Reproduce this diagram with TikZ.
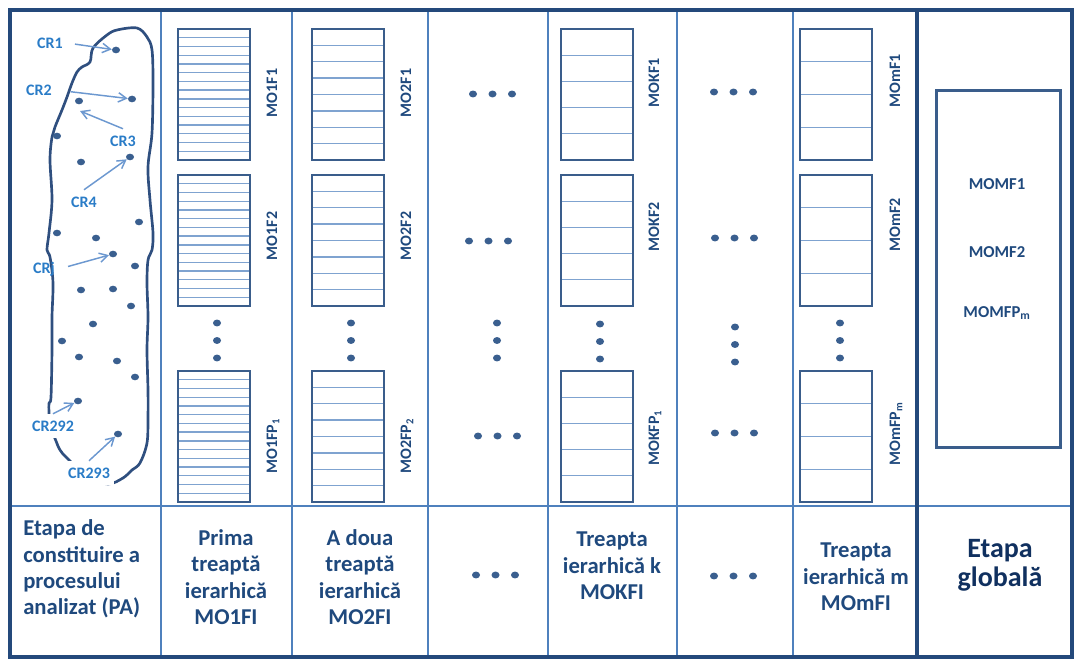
\documentclass[tikz,border=0pt]{standalone}
\usepackage{fontspec}
\setmainfont{Carlito}
\usetikzlibrary{calc,arrows.meta,shapes.geometric}
\definecolor{framec}{HTML}{24497B}
\definecolor{divc}{HTML}{4F81BD}
\definecolor{boxc}{HTML}{3A5D8B}
\definecolor{rowc}{HTML}{7FA3D0}
\definecolor{txtc}{HTML}{1F497D}
\definecolor{navy}{HTML}{10305F}
\definecolor{crc}{HTML}{2A7CC7}
\definecolor{arrc}{HTML}{6C98D0}
\definecolor{blobc}{HTML}{2F4F7F}
\definecolor{dotc}{HTML}{3A5F8F}
\newcommand\stk[4]{%
  \node[sbox] (#1) at (#2,#3) {};
  \pgfmathtruncatemacro\nlines{#4-1}
  \foreach \k in {1,...,\nlines}{
    \draw[rowl] ($(#1.north west)!\k/#4!(#1.south west)$) -- ($(#1.north east)!\k/#4!(#1.south east)$);
  }
}
\begin{document}
\begin{tikzpicture}[x=0.75pt,y=-0.75pt,
  sbox/.style={draw=boxc,line width=2pt,inner sep=0pt,outer sep=0pt,minimum width=54pt,minimum height=98.25pt,anchor=north west},
  rowl/.style={draw=rowc,line width=1pt,shorten <=1pt,shorten >=1pt},
  lab/.style={rotate=90,font=\bfseries\fontsize{12pt}{14pt}\selectfont,text=txtc,inner sep=0pt},
  btxt/.style={font=\bfseries\fontsize{17pt}{19.8pt}\selectfont,text=txtc,align=center,inner sep=0pt},
  gtxt/.style={font=\bfseries\fontsize{12.5pt}{14pt}\selectfont,text=txtc,inner sep=0pt},
  crlab/.style={font=\bfseries\fontsize{12pt}{14pt}\selectfont,text=crc,inner xsep=3pt,inner ysep=5pt},
  arr/.style={draw=arrc,line width=1.1pt,-{Straight Barb[angle=60:7pt]}},
  dot/.style={ellipse,fill=dotc,minimum width=6pt,minimum height=5pt,inner sep=0pt},
  sdot/.style={ellipse,fill=dotc,minimum width=6pt,minimum height=5.2pt,inner sep=0pt},
  divl/.style={draw=divc,line width=1.5pt},
  thickl/.style={draw=framec,line width=3.6pt},
  blob/.style={draw=blobc,line width=2pt,line join=round}
]
\useasboundingbox (0,0) rectangle (1075,659);
% grid lines
\foreach \x in {161,292,428,548,677,793} \draw[divl] (\x,10) -- (\x,657);
\draw[divl] (10,506) -- (1072,506);
\draw[thickl] (917,10) -- (917,657);
\draw[thickl] (10,10) rectangle (1072,657);

% blob
\draw[blob] plot[smooth cycle,tension=0.55] coordinates {
 (107,35) (117,30) (137,28) (147,37) (152,50) (153,83) (152,133) (148,167) (150,200) (153,233)
 (152,250) (148,260) (147,283) (148,317) (147,350) (148,390) (148,417) (147,443) (140,463)
 (132,470) (123,478) (108,484) (88,477) (67,458) (60,450) (56,441) (50,425) (49,412) (49,403)
 (51,397) (52,350) (52,317) (53,283) (50,257) (47,250) (49,233) (52,200) (50,160) (52,137)
 (55,127) (62,110) (67,97) (72,83) (77,72) (82,67) (90,62) (93,48)};

% dots in the blob
\foreach \p [count=\i] in {(116,50),(132,99),(79,101),(57,136),(130,157),(81,162),(139,222),
  (57,233),(96,238),(113,254),(135,266),(81,290),(113,289),(131,306),(93,324),(62,341),
  (79,357),(117,361),(135,377),(78,401),(118,434)}
  \node[dot] (d\i) at \p {};

% CR labels
\node[crlab] (cr1) at (50,43) {CR1};
\node[crlab] (cr2) at (39,90) {CR2};
\node[crlab] (cr3) at (123,141) {CR3};
\node[crlab] (cr4) at (84,202) {CR4};
\node[crlab] (crj) at (44,269) {CRj};
\node[crlab,fill=white] (cr292) at (53,426) {CR292};
\node[crlab,fill=white] (cr293) at (89,473) {CR293};
\coordinate (cr3end) at (80,111);
\draw[arr,shorten <=6pt] (cr1.east) -- (d1);
\draw[arr,shorten <=11pt] (cr2.east) -- (d2);
\draw[arr] (cr3.north) -- (cr3end);
\draw[arr] (cr4.north) -- (d5);
\draw[arr,shorten <=7pt] (crj.east) -- (d10);
\draw[arr] (cr292.north) -- (d20);
\draw[arr] (cr293.north) -- (d21);

% stacks
\stk{a1}{178}{29}{15}  \stk{a2}{178}{175}{15}  \stk{a3}{178}{371}{15}
\stk{b1}{312}{29}{8}   \stk{b2}{312}{175}{8}   \stk{b3}{312}{371}{8}
\stk{k1}{561}{29}{5}   \stk{k2}{561}{175}{5}   \stk{k3}{561}{371}{5}
\stk{m1}{800}{29}{4}   \stk{m2}{800}{175}{4}   \stk{m3}{800}{371}{4}

% stack labels
\node[lab] (la1) at (272,93) {MO1F1};
\node[lab] (la2) at (272,236) {MO1F2};
\node[lab] (la3) at (273,446) {MO1FP\textsubscript{1}};
\node[lab] (lb1) at (406,93) {MO2F1};
\node[lab] (lb2) at (406,236) {MO2F2};
\node[lab] (lb3) at (407,446) {MO2FP\textsubscript{2}};
\node[lab] (lk1) at (654,83) {MOKF1};
\node[lab] (lk2) at (654,227) {MOKF2};
\node[lab] (lk3) at (655,438) {MOKFP\textsubscript{1}};
\node[lab] (lm1) at (895,81) {MOmF1};
\node[lab] (lm2) at (895,225) {MOmF2};
\node[lab] (lm3) at (896,434) {MOmFP\textsubscript{m}};

% vertical ellipses
\foreach \x/\y [count=\c] in {217/323,351/323,497/323,600/324,735/327,840/323}
  \foreach \j in {0,1,2} \node[sdot] (v\c-\j) at (\x,\y+17.5*\j) {};
% horizontal ellipses
\foreach \x/\y [count=\c] in {473/94,469/241,478/436,476/575,714/92,715/238,715/433,714/576}
  \foreach \j in {0,1,2} \node[sdot] (h\c-\j) at (\x+19.5*\j,\y) {};

% global box
\node[draw=boxc,line width=2pt,minimum width=93pt,minimum height=267.75pt,inner sep=0pt,anchor=north west] (gbox) at (935,89) {};
\node[gtxt] (g1) at (997,184) {MOMF1};
\node[gtxt] (g2) at (997,252) {MOMF2};
\node[gtxt] (g3) at (997,313) {MOMFP\textsubscript{m}};

% bottom row texts
\node[btxt,align=left,anchor=west] (t0) at (23,569) {Etapa de\\constituire a\\procesului\\analizat (PA)};
\node[btxt] (t1) at (226,577) {Prima\\treaptă\\ierarhică\\MO1FI};
\node[btxt] (t2) at (360,577) {A doua\\treaptă\\ierarhică\\MO2FI};
\node[btxt] (t3) at (612,566) {Treapta\\ierarhică k\\MOKFI};
\node[btxt] (t4) at (856,577) {Treapta\\ierarhică m\\MOmFI};
\node[btxt,text=navy,font=\bfseries\fontsize{21pt}{21.5pt}\selectfont] (t5) at (1000,565) {Etapa\\globală};
\end{tikzpicture}
\end{document}
